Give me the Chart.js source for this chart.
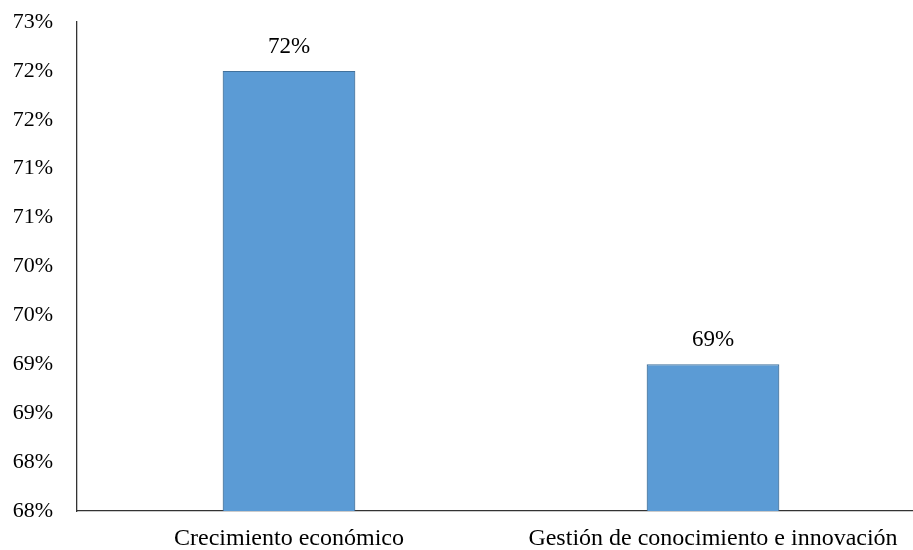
<!DOCTYPE html>
<html>
<head>
<meta charset="utf-8">
<script src="https://cdn.jsdelivr.net/npm/chart.js@4.4.0/dist/chart.umd.min.js"></script>
<style>
  html, body { margin: 0; padding: 0; background: #fff; overflow: hidden; }
  #wrap { width: 925px; height: 550px; }
</style>
</head>
<body>
<div id="wrap"><canvas id="chart"></canvas></div>
<script>
// Categories and values (percent)
const categories = ['Crecimiento económico', 'Gestión de conocimiento e innovación'];
const values = [72, 69];
const valueLabels = ['72%', '69%'];

// Y axis range, ticks every half point
const yMin = 67.5;
const yMax = 72.5;
const yStep = 0.5;

const FONT = '"Liberation Serif", "Times New Roman", serif';

// Draws the value text above each bar
const barValueLabels = {
  id: 'barValueLabels',
  afterDatasetsDraw(chart) {
    const ctx = chart.ctx;
    const meta = chart.getDatasetMeta(0);
    ctx.save();
    ctx.font = '23px ' + FONT;
    ctx.fillStyle = '#000';
    ctx.textAlign = 'center';
    ctx.textBaseline = 'middle';
    meta.data.forEach((bar, i) => {
      ctx.fillText(valueLabels[i], bar.x, bar.y - 24);
    });
    ctx.restore();
  }
};

new Chart(document.getElementById('chart'), {
  type: 'bar',
  data: {
    labels: categories,
    datasets: [{
      data: values,
      backgroundColor: '#5b9bd5',
      borderColor: '#41719c',
      borderWidth: 1.2,
      categoryPercentage: 1,
      barPercentage: 0.313
    }]
  },
  options: {
    responsive: true,
    maintainAspectRatio: false,
    animation: false,
    layout: { padding: { top: 22, right: 0, left: 0, bottom: 0 } },
    plugins: {
      legend: { display: false },
      tooltip: { enabled: false }
    },
    scales: {
      x: {
        grid: { display: false },
        border: { display: true, color: '#333', width: 1.3 },
        ticks: {
          color: '#000',
          font: { family: FONT, size: 24 },
          padding: 5,
          maxRotation: 0
        },
        afterFit(scale) {
          scale.height = 39;
          scale.paddingLeft = 0;
          scale.paddingRight = 0;
        }
      },
      y: {
        min: yMin,
        max: yMax,
        grid: { display: false },
        border: { display: true, color: '#333', width: 1.3 },
        ticks: {
          stepSize: yStep,
          color: '#000',
          font: { family: FONT, size: 22 },
          padding: 16,
          callback: (v) => Math.round(v) + '%'
        },
        afterFit(scale) {
          scale.width = 77;
          scale.paddingTop = 0;
          scale.paddingBottom = 0;
        }
      }
    }
  },
  plugins: [barValueLabels]
});
</script>
</body>
</html>
